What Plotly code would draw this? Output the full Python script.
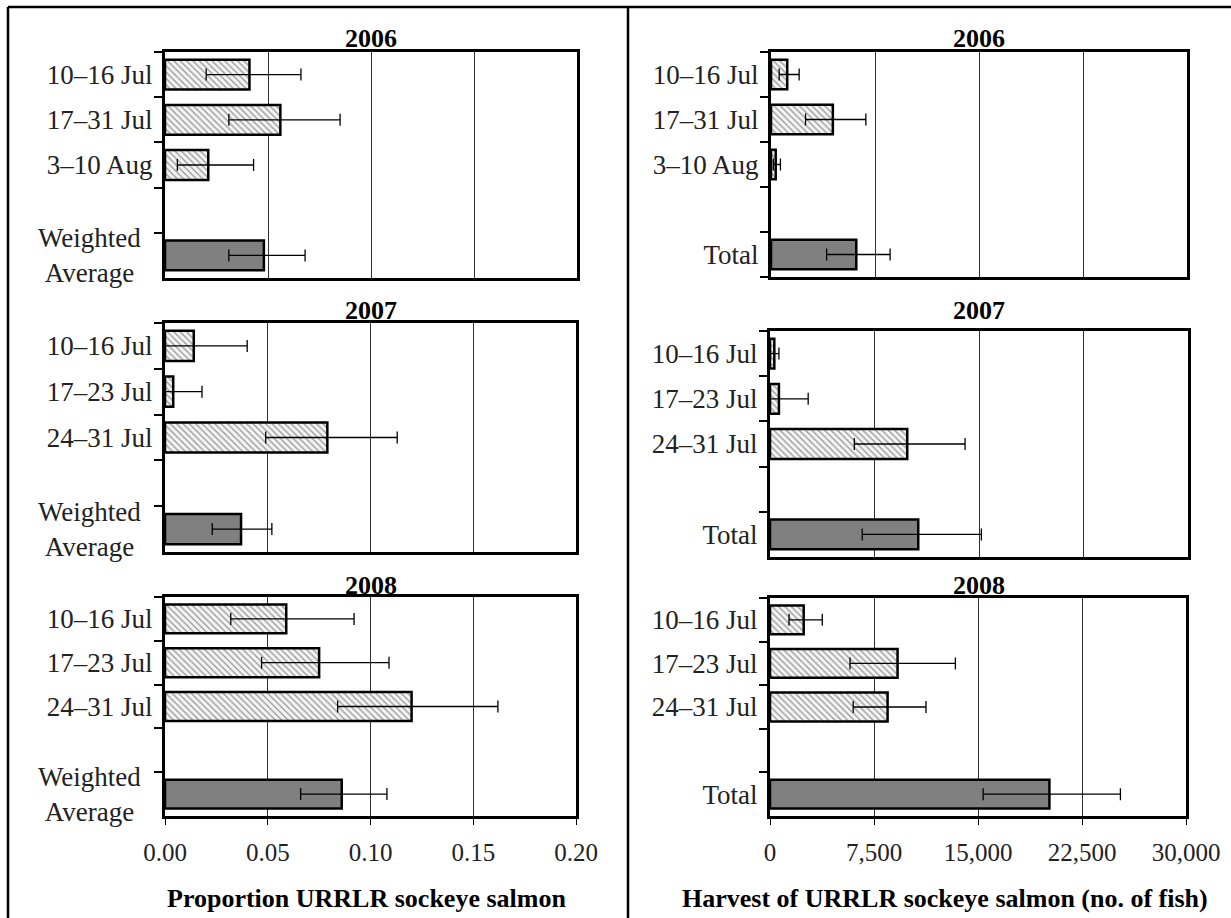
import plotly.graph_objects as go

W, H = 1231, 918
FONT = "Liberation Serif"

# ---------------- data ----------------
years = ["2006", "2007", "2008"]

weeks_2006 = ["10–16 Jul", "17–31 Jul", "3–10 Aug"]
weeks_2007 = ["10–16 Jul", "17–23 Jul", "24–31 Jul"]
weeks_2008 = ["10–16 Jul", "17–23 Jul", "24–31 Jul"]

# proportion URRLR sockeye (3 weeks + weighted average)
prop_2006 = [0.041, 0.056, 0.021, 0.048]
prop_lo_2006 = [0.020, 0.031, 0.006, 0.031]
prop_hi_2006 = [0.066, 0.085, 0.043, 0.068]

prop_2007 = [0.014, 0.004, 0.079, 0.037]
prop_lo_2007 = [0.000, 0.000, 0.049, 0.023]
prop_hi_2007 = [0.040, 0.018, 0.113, 0.052]

prop_2008 = [0.059, 0.075, 0.120, 0.086]
prop_lo_2008 = [0.032, 0.047, 0.084, 0.066]
prop_hi_2008 = [0.092, 0.109, 0.162, 0.108]

# harvest of URRLR sockeye (3 weeks + total)
harv_2006 = [1170, 4460, 340, 6150]
harv_lo_2006 = [590, 2490, 170, 4010]
harv_hi_2006 = [2030, 6840, 680, 8590]

harv_2007 = [310, 640, 9850, 10640]
harv_lo_2007 = [30, 0, 6050, 6620]
harv_hi_2007 = [640, 2740, 14000, 15170]

harv_2008 = [2430, 9200, 8480, 20150]
harv_lo_2008 = [1370, 5770, 6000, 15370]
harv_hi_2008 = [3770, 13370, 11250, 25270]

left_total_label = "Weighted Average"
right_total_label = "Total"
left_ticks = [0, 0.05, 0.10, 0.15, 0.20]
right_ticks = [0, 7500, 15000, 22500, 30000]

left_title = "<b>Proportion URRLR sockeye salmon</b>"
right_title = "<b>Harvest of URRLR sockeye salmon (no. of fish)</b>"

# ---------------- layout helpers ----------------
def xdom(l, r):
    return [l / W, r / W]

def ydom(t, b):
    return [1 - b / H, 1 - t / H]

panels = [
    # idx, side, weeks, vals, lo, hi, x px, y px
    (1, "L", weeks_2006, prop_2006, prop_lo_2006, prop_hi_2006, (165, 577), (52, 278)),
    (2, "R", weeks_2006, harv_2006, harv_lo_2006, harv_hi_2006, (771, 1187), (52, 277)),
    (3, "L", weeks_2007, prop_2007, prop_lo_2007, prop_hi_2007, (165, 576), (323, 552)),
    (4, "R", weeks_2007, harv_2007, harv_lo_2007, harv_hi_2007, (770, 1188), (331, 557)),
    (5, "L", weeks_2008, prop_2008, prop_lo_2008, prop_hi_2008, (165, 576), (597, 816)),
    (6, "R", weeks_2008, harv_2008, harv_lo_2008, harv_hi_2008, (770, 1186), (598, 816)),
]

fig = go.Figure()
layout = dict(
    template="none",
    width=W, height=H,
    autosize=False,
    margin=dict(l=0, r=0, t=0, b=0, pad=0, autoexpand=False),
    paper_bgcolor="white", plot_bgcolor="white",
    showlegend=False,
    barmode="overlay",
    bargap=0.34,
    font=dict(family=FONT, color="black"),
)

annotations = []

for idx, side, weeks, vals, lo, hi, (xl, xr), (yt, yb) in panels:
    sfx = "" if idx == 1 else str(idx)
    xa, ya = "x" + sfx, "y" + sfx
    total_label = left_total_label if side == "L" else right_total_label
    blank = " "
    cats = weeks + [blank, total_label]
    plus = [h - v for v, h in zip(vals, hi)]
    minus = [v - l for v, l in zip(vals, lo)]

    err_style = dict(type="data", symmetric=False, color="black", thickness=1.3, width=6)

    # weekly hatched bars
    fig.add_trace(go.Bar(
        y=weeks + [blank], x=vals[:3] + [None], orientation="h",
        xaxis=xa, yaxis=ya,
        marker=dict(color="white",
                    line=dict(color="black", width=2.5),
                    pattern=dict(shape="\\", fgcolor="#9a9a9a", bgcolor="#f4f4f4",
                                 size=4.5, solidity=0.3)),
        error_x=dict(array=plus[:3] + [None], arrayminus=minus[:3] + [None], **err_style),
        hoverinfo="x+y",
    ))
    # total / weighted average solid bar
    fig.add_trace(go.Bar(
        y=[total_label], x=[vals[3]], orientation="h",
        xaxis=xa, yaxis=ya,
        marker=dict(color="#808080", line=dict(color="black", width=2.5)),
        error_x=dict(array=[plus[3]], arrayminus=[minus[3]], **err_style),
        hoverinfo="x+y",
    ))

    # left panels: the two-line "Weighted Average" label is centred, so it is an annotation
    if side == "L":
        ticktext = weeks + ["", ""]
        annotations.append(dict(
            text="Weighted<br>Average", x=89 / W, xref="paper",
            y=cats.index(total_label), yref=ya,
            xanchor="center", yanchor="middle", align="center", showarrow=False,
            font=dict(family=FONT, size=27, color="#222222"),
        ))
    else:
        ticktext = weeks + ["", total_label]

    bottom = idx in (5, 6)
    ticks = left_ticks if side == "L" else right_ticks
    layout["xaxis" + sfx] = dict(
        domain=xdom(xl, xr), anchor=ya, automargin=False,
        range=[ticks[0], ticks[-1]], tickvals=ticks,
        tickformat=".2f" if side == "L" else ",d",
        showgrid=True, gridcolor="#303030", gridwidth=1,
        zeroline=False,
        showline=True, mirror=True, linecolor="black", linewidth=3,
        showticklabels=bottom,
        ticks="outside" if bottom else "", ticklen=6, tickwidth=1.2, tickcolor="black",
        ticklabelstandoff=6,
        tickfont=dict(family=FONT, size=25, color="#222222"),
        fixedrange=True,
    )
    layout["yaxis" + sfx] = dict(
        domain=ydom(yt, yb), anchor=xa, automargin=False,
        type="category", categoryorder="array", categoryarray=cats,
        tickmode="array", tickvals=cats, ticktext=ticktext,
        range=[4.5, -0.5],
        tickson="boundaries", ticks="outside", ticklen=8, tickwidth=1.5, tickcolor="black",
        ticklabelstandoff=4,
        showgrid=False, zeroline=False,
        showline=True, mirror=True, linecolor="black", linewidth=3,
        tickfont=dict(family=FONT, size=27, color="#222222"),
        fixedrange=True,
    )

title_rows = [(years[0], 38), (years[1], 310), (years[2], 585)]
for yr, ypx in title_rows:
    for cx in (371, 979):
        annotations.append(dict(
            text="<b>%s</b>" % yr, x=cx / W, y=1 - ypx / H, xref="paper", yref="paper",
            xanchor="center", yanchor="middle", showarrow=False,
            font=dict(family=FONT, size=26, color="black"),
        ))
annotations.append(dict(text=left_title, x=366 / W, y=1 - 898 / H, xref="paper", yref="paper",
                        xanchor="center", yanchor="middle", showarrow=False,
                        font=dict(family=FONT, size=26, color="black")))
annotations.append(dict(text=right_title, x=945 / W, y=1 - 898 / H, xref="paper", yref="paper",
                        xanchor="center", yanchor="middle", showarrow=False,
                        font=dict(family=FONT, size=26, color="black")))
layout["annotations"] = annotations

frame = dict(color="black", width=2.5)
layout["shapes"] = [
    dict(type="line", xref="paper", yref="paper", x0=8 / W, x1=1, y0=1 - 7 / H, y1=1 - 7 / H, line=frame),
    dict(type="line", xref="paper", yref="paper", x0=8 / W, x1=8 / W, y0=0, y1=1 - 7 / H, line=frame),
    dict(type="line", xref="paper", yref="paper", x0=628 / W, x1=628 / W, y0=0, y1=1 - 7 / H, line=frame),
]

fig.update_layout(**layout)
fig.write_html(
    "out.html",
    config={"displayModeBar": False},
    post_script="document.body.style.margin='0px';document.body.style.overflow='hidden';",
)
